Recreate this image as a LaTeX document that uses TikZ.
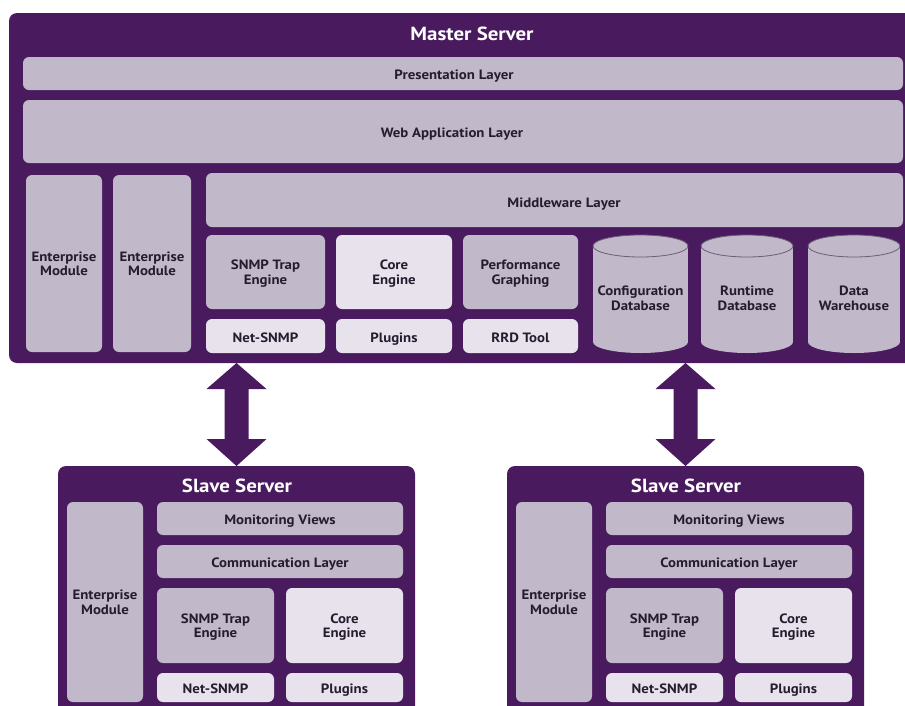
\documentclass[tikz,border=0pt]{standalone}
\usepackage{fontspec}
\setmainfont{PT Sans}[FakeStretch=1.1]
\definecolor{pur}{HTML}{4A1A5F}
\definecolor{midc}{HTML}{C1B8CA}
\definecolor{litec}{HTML}{E7E2EC}
\definecolor{inkc}{HTML}{261C2E}
\definecolor{rimc}{HTML}{6A5F74}
\tikzset{
  server/.style={fill=pur, rounded corners=8pt, anchor=north west, inner sep=0pt, outer sep=0pt},
  title/.style={text=white, font=\fontsize{19}{21}\selectfont\bfseries},
  txt/.style={text=inkc, align=center, font=\fontsize{13.5}{14.5}\selectfont\bfseries},
  oneline/.style={txt, text height=12pt, text depth=0pt},
  twoline/.style={txt, text depth=-1.5pt},
  part/.style={rounded corners=6pt, anchor=north west, inner sep=0pt, outer sep=0pt},
  midbox/.style={part, fill=midc},
  litebox/.style={part, fill=litec},
  lbl/.style={inner sep=0pt},
}
% database drum between x=#2 and x=#3
\newcommand\dbdrum[4]{%
  \fill[midc] (#2,246) rectangle (#3,342);
  \fill[midc] ({(#2+#3)/2},342) ellipse [x radius={(#3-#2)/2}, y radius=11];
  \filldraw[fill=midc, draw=rimc, line width=0.8pt] ({(#2+#3)/2},246) ellipse [x radius={(#3-#2)/2}, y radius=11];
  \node[lbl, twoline] (#1) at ({(#2+#3)/2},298) {#4};}
% thick two-headed arrow between two points
\newcommand\twoway[2]{%
  \fill[pur] (#1) -- ([shift={(30,26)}]#1) -- ([shift={(12,26)}]#1)
    -- ([shift={(12,-27)}]#2) -- ([shift={(30,-27)}]#2) -- (#2)
    -- ([shift={(-30,-27)}]#2) -- ([shift={(-12,-27)}]#2)
    -- ([shift={(-12,26)}]#1) -- ([shift={(-30,26)}]#1) -- cycle;}
% one slave server, shifted horizontally by #1
\newcommand\slave[2]{%
  \begin{scope}[xshift=#1pt]
    \node[server, minimum width=357pt, minimum height=260pt] (#2) at (58,466) {};
    \node[title] (#2title) at (237,486) {Slave Server};
    \node[midbox, twoline, minimum width=76pt, minimum height=200pt] (#2ent) at (67,502) {Enterprise\\Module};
    \node[midbox, oneline, minimum width=246pt, minimum height=33pt] (#2mon) at (157,502) {Monitoring Views};
    \node[midbox, oneline, minimum width=246pt, minimum height=33pt] (#2com) at (157,545) {Communication Layer};
    \node[midbox, twoline, minimum width=117pt, minimum height=75pt] (#2trap) at (157,588) {SNMP Trap\\Engine};
    \node[litebox, twoline, minimum width=117pt, minimum height=75pt] (#2core) at (286,588) {Core\\Engine};
    \node[litebox, oneline, minimum width=117pt, minimum height=29pt] (#2net) at (157,673) {Net-SNMP};
    \node[litebox, oneline, minimum width=117pt, minimum height=29pt] (#2plug) at (286,673) {Plugins};
  \end{scope}}
\begin{document}
\begin{tikzpicture}[x=1pt,y=-1pt]
\useasboundingbox (0,0) rectangle (905,705);
\clip (0,0) rectangle (905,705);
\fill[white] (0,0) rectangle (905,705);

% master server
\node[server, minimum width=930pt, minimum height=350pt] (master) at (9,13) {};
\node[title] (mtitle) at (472,34) {Master Server};
\node[midbox, minimum width=880pt, minimum height=33pt] (pres) at (23,57) {};
\node[lbl, oneline] (prestext) at (454,73.5) {Presentation Layer};
\node[midbox, minimum width=880pt, minimum height=63pt] (web) at (23,100) {};
\node[lbl, oneline] (webtext) at (452,131) {Web Application Layer};
\node[midbox, twoline, minimum width=76pt, minimum height=177pt] (ent1) at (26,175) {Enterprise\\Module};
\node[midbox, twoline, minimum width=78pt, minimum height=177pt] (ent2) at (113,175) {Enterprise\\Module};
\node[midbox, minimum width=697pt, minimum height=54pt] (mid) at (206,173) {};
\node[lbl, oneline] (midtext) at (564,201.5) {Middleware Layer};
\node[midbox, twoline, minimum width=119pt, minimum height=74pt] (trap) at (206,235) {SNMP Trap\\Engine};
\node[litebox, twoline, minimum width=116pt, minimum height=74pt] (core) at (336,235) {Core\\Engine};
\node[midbox, twoline, minimum width=115pt, minimum height=74pt] (perf) at (463,235) {Performance\\Graphing};
\node[litebox, oneline, minimum width=119pt, minimum height=34pt] (netsnmp) at (206,319) {Net-SNMP};
\node[litebox, oneline, minimum width=116pt, minimum height=34pt] (plugins) at (336,319) {Plugins};
\node[litebox, oneline, minimum width=115pt, minimum height=34pt] (rrd) at (463,319) {RRD Tool};
\dbdrum{confdb}{593}{688}{Configuration\\Database}
\dbdrum{rundb}{701}{793}{Runtime\\Database}
\dbdrum{dwh}{808}{900}{Data\\Warehouse}

% slave servers
\slave{0}{sa}
\slave{449}{sb}

% links between master and slaves
\coordinate (la) at (master.south -| sa.north);
\coordinate (lb) at (master.south -| sb.north);
\twoway{la}{sa.north}
\twoway{lb}{sb.north}
\end{tikzpicture}
\end{document}
